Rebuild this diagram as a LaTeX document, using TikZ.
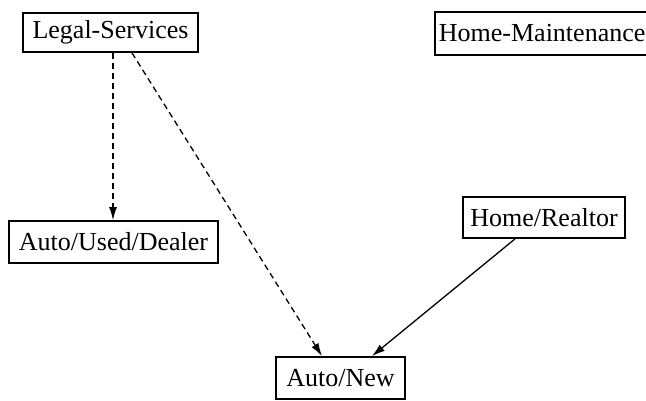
\documentclass[tikz,border=0pt]{standalone}
\usepackage{fontspec}
\setmainfont{Liberation Serif}
\usetikzlibrary{calc,arrows.meta}
\begin{document}
\begin{tikzpicture}[x=1pt,y=-1pt,
  box/.style={draw,line width=1.8pt,rectangle,inner sep=0pt,font=\fontsize{26}{30}\selectfont},
  link/.style={line width=1.3pt,-{Latex[length=13pt,width=8pt]}},
  dlink/.style={link,dash pattern=on 6pt off 4pt}]
\useasboundingbox (0,0) rectangle (646,400);
\clip (0,0) rectangle (646,400);
\node[box,minimum width=175pt,minimum height=39pt] (legal) at (110.5,32.5) {Legal-Services};
\node[box,anchor=west,minimum height=43pt,inner xsep=4pt,text width=222pt,align=left] (maint) at (434,33.5) {Home-Maintenance};
\node[box,minimum width=209pt,minimum height=42pt] (dealer) at (113.5,242) {Auto/Used/Dealer};
\node[box,minimum width=162pt,minimum height=41pt] (realtor) at (544,217.5) {Home/Realtor};
\node[box,minimum width=129pt,minimum height=42pt] (new) at (340.5,378) {Auto/New};
\coordinate (ls) at ($(legal.south)+(2.5,0)$);
\draw[dlink] (ls) -- (ls |- dealer.north);
\draw[dlink] ($(legal.south)+(21.5,0)$) -- ($(new.north)+(-18.5,0)$);
\draw[link] ($(realtor.south)+(-29,0)$) -- ($(new.north)+(31.5,0)$);
\end{tikzpicture}
\end{document}
